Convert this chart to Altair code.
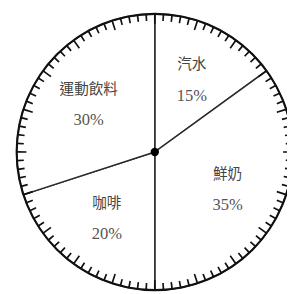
import math
import altair as alt
import pandas as pd

categories = ["汽水", "鮮奶", "咖啡", "運動飲料"]
percents = [15, 35, 20, 30]
pct_labels = ["15%", "35%", "20%", "30%"]
tick_count = 100

ends = []
acc = 0
for p in percents:
    acc += p
    ends.append(acc)
starts = [e - p for e, p in zip(ends, percents)]

slices = pd.DataFrame({
    "name": categories,
    "pct": pct_labels,
    "start": starts,
    "end": ends,
    "mid": [(s + e) / 2 for s, e in zip(starts, ends)],
})

ticks = pd.DataFrame({"i": list(range(tick_count))})
ticks["t0"] = ticks["i"] - 0.1
ticks["t1"] = ticks["i"] + 0.1
ticks["long"] = ticks["i"] % 5 == 0

CX, CY, R = 151, 144, 142
tscale = alt.Scale(domain=[0, 100], range=[0, 2 * math.pi])
cx = alt.value(CX)
cy = alt.value(CY)

base = alt.Chart(slices)

pie = base.mark_arc(outerRadius=R, fill="white", stroke="#2a2a2a", strokeWidth=1.5).encode(
    theta=alt.Theta("start:Q", scale=tscale), theta2="end:Q", x=cx, y=cy
)

ring = alt.Chart(pd.DataFrame({"a": [0], "b": [100]})).mark_arc(
    innerRadius=R - 1, outerRadius=R + 1.2, fill="#111"
).encode(theta=alt.Theta("a:Q", scale=tscale), theta2="b:Q", x=cx, y=cy)

short_ticks = alt.Chart(ticks).transform_filter("!datum.long").mark_arc(
    innerRadius=R - 7, outerRadius=R, fill="#111"
).encode(theta=alt.Theta("t0:Q", scale=tscale), theta2="t1:Q", x=cx, y=cy)

long_ticks = alt.Chart(ticks).transform_filter("datum.long").mark_arc(
    innerRadius=R - 10, outerRadius=R, fill="#111"
).encode(theta=alt.Theta("t0:Q", scale=tscale), theta2="t1:Q", x=cx, y=cy)

names = base.mark_text(
    font="Noto Sans CJK TC", fontSize=15, color="#444", dy=-15
).encode(theta=alt.Theta("mid:Q", scale=tscale), radius=alt.value(84), text="name:N", x=cx, y=cy)

pcts = base.mark_text(
    font="Liberation Serif", fontSize=17, color="#555", dy=17
).encode(theta=alt.Theta("mid:Q", scale=tscale), radius=alt.value(84), text="pct:N", x=cx, y=cy)

dot = alt.Chart(pd.DataFrame({"c": [0]})).mark_point(
    filled=True, color="#000", size=75, opacity=1
).encode(x=cx, y=cy)

chart = alt.layer(pie, ring, short_ticks, long_ticks, names, pcts, dot).properties(
    width=279, height=286,
    padding={"left": 0, "top": 0, "right": 8, "bottom": 0},
    autosize=alt.AutoSizeParams(type="none"),
).configure_view(stroke=None)

chart.save("out.html", embed_options={"renderer": "svg", "actions": False})
